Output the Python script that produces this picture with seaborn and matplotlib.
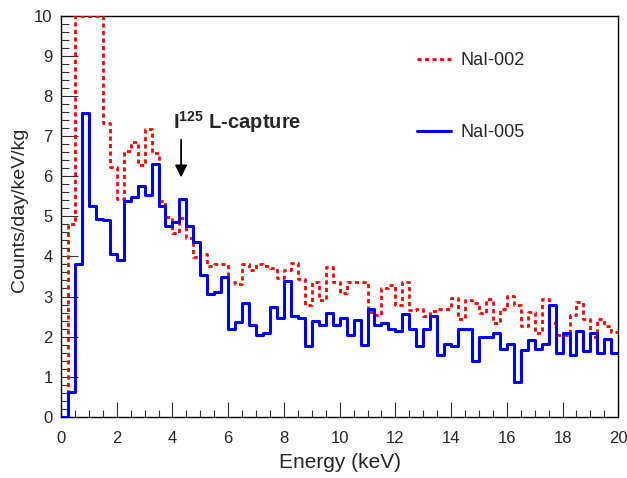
import numpy as np
import pandas as pd
import matplotlib
matplotlib.use("Agg")
import matplotlib.pyplot as plt
import seaborn as sns
from matplotlib.lines import Line2D
from matplotlib.ticker import MultipleLocator

# 0.25 keV bins, 0 - 20 keV
bin_width = 0.25
bin_centers = np.arange(0, 20, bin_width) + bin_width / 2

# counts/day/keV/kg (NaI-002 is cut at 10)
nai_002 = [0.00, 4.80, 10.0, 10.0, 10.0, 10.0, 7.33, 6.22, 5.42, 6.64,
           6.86, 6.27, 7.18, 6.57, 5.37, 4.98, 4.58, 4.95, 4.47, 3.99,
           4.07, 3.76, 3.80, 3.81, 3.37, 3.30, 3.81, 3.67, 3.82, 3.77,
           3.70, 3.47, 3.65, 3.84, 3.44, 2.80, 3.37, 2.92, 3.73, 3.37,
           3.08, 3.37, 3.37, 3.37, 2.62, 2.54, 3.20, 3.28, 2.78, 3.37,
           2.66, 2.69, 2.52, 2.64, 2.70, 2.70, 2.96, 2.43, 2.92, 2.85,
           2.60, 2.93, 2.33, 2.70, 3.01, 2.79, 2.26, 2.61, 2.09, 2.93,
           2.33, 2.04, 2.04, 2.54, 2.87, 2.45, 2.00, 2.45, 2.26, 2.12]

nai_005 = [0.00, 0.62, 3.81, 7.58, 5.26, 4.94, 4.90, 4.07, 3.91, 5.37,
           5.49, 5.75, 5.53, 6.31, 5.26, 4.77, 4.85, 5.43, 4.77, 4.36,
           3.54, 3.06, 3.11, 3.49, 2.18, 2.36, 2.85, 2.30, 2.04, 2.08,
           2.74, 2.46, 3.38, 2.51, 2.47, 1.76, 2.40, 2.30, 2.58, 2.30,
           2.46, 2.04, 2.41, 1.80, 2.68, 2.29, 2.34, 2.20, 2.14, 2.56,
           2.20, 1.76, 2.20, 2.52, 1.55, 1.81, 1.76, 2.19, 2.19, 1.39,
           2.00, 2.00, 2.09, 1.70, 1.81, 0.87, 1.66, 1.92, 1.70, 1.81,
           2.78, 1.58, 2.09, 1.54, 2.14, 1.65, 2.09, 1.58, 1.93, 1.60]

detectors = ["NaI-002", "NaI-005"]

sns.set_style("ticks")
plt.rcParams["font.family"] = ["Liberation Sans", "DejaVu Sans"]
plt.rcParams["mathtext.fontset"] = "custom"
plt.rcParams["mathtext.rm"] = "Liberation Sans"
plt.rcParams["mathtext.bf"] = "Liberation Sans:bold"

df = pd.DataFrame({
    "energy": np.concatenate([bin_centers, bin_centers]),
    "rate": nai_002 + nai_005,
    "detector": [detectors[0]] * len(nai_002) + [detectors[1]] * len(nai_005),
})

fig = plt.figure(figsize=(6.27, 4.78), dpi=100)
ax = fig.add_axes([0.0973, 0.128, 0.8888, 0.839])

red_dots = (0, (1.5, 1.2))
sns.histplot(data=df[df.detector == "NaI-002"], x="energy", weights="rate",
             binwidth=bin_width, binrange=(0, 20), element="step", fill=False,
             color="#ff0000", linewidth=2.0, linestyle=red_dots, ax=ax, zorder=3)
sns.histplot(data=df[df.detector == "NaI-005"], x="energy", weights="rate",
             binwidth=bin_width, binrange=(0, 20), element="step", fill=False,
             color="#0000ff", linewidth=2.2, ax=ax, zorder=3)

ax.set_xlim(0, 20)
ax.set_ylim(0, 10)
ax.xaxis.set_major_locator(MultipleLocator(2))
ax.xaxis.set_minor_locator(MultipleLocator(0.5))
ax.yaxis.set_major_locator(MultipleLocator(1))
ax.yaxis.set_minor_locator(MultipleLocator(0.2))
ax.tick_params(which="both", direction="in", top=False, right=False,
               labelsize=12, width=0.8, color="#333333")
ax.tick_params(axis="x", which="major", length=11, pad=10)
ax.tick_params(axis="x", which="minor", length=5)
ax.tick_params(axis="y", which="major", length=12, pad=6)
ax.tick_params(axis="y", which="minor", length=6)
for s in ax.spines.values():
    s.set_linewidth(1.0)
    s.set_color("black")

ax.set_xlabel("Energy (keV)", fontsize=15)
ax.set_ylabel("Counts/day/keV/kg", fontsize=14)
ax.xaxis.set_label_coords(0.5, -0.09)
ax.yaxis.set_label_coords(-0.06, 0.515)

# I-125 annotation
ax.annotate("", xy=(4.31, 5.9), xytext=(4.31, 6.98),
            arrowprops=dict(arrowstyle="-|>", color="black", lw=1.3,
                            mutation_scale=18))
ax.text(4.02, 7.19, r"$\mathbf{I}^{\mathbf{125}}$ L-capture", fontsize=14.5,
        fontweight="bold", va="baseline", ha="left")

handles = [Line2D([], [], color="#ff0000", lw=2.0, linestyle=red_dots),
           Line2D([], [], color="#0000ff", lw=2.2)]
ax.legend(handles, detectors, loc="center left", bbox_to_anchor=(0.639, 0.799),
          frameon=False, fontsize=13, labelspacing=3.05, handlelength=1.85,
          handletextpad=0.55, borderpad=0, borderaxespad=0)

fig.savefig("out.png", dpi=100)
